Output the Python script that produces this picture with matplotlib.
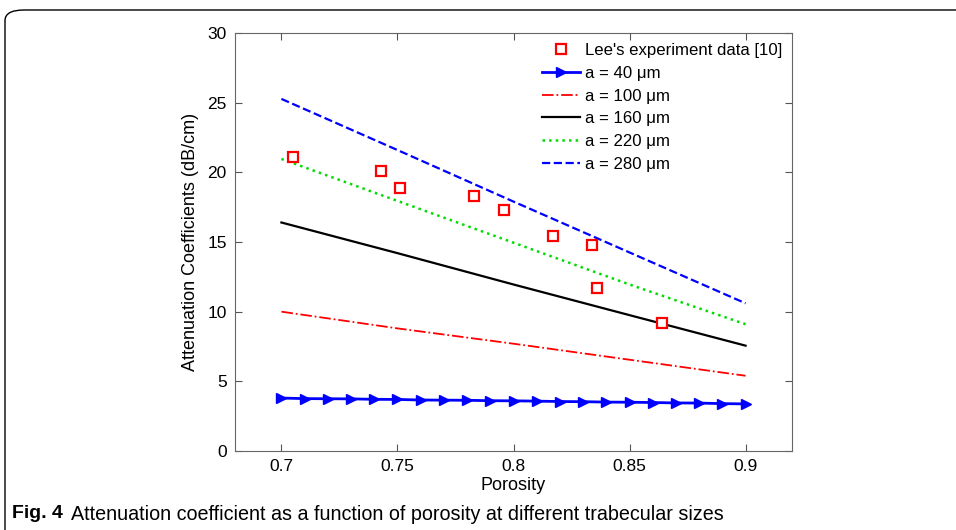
import numpy as np
import matplotlib
matplotlib.use("Agg")
import matplotlib.pyplot as plt
from matplotlib.patches import FancyBboxPatch

plt.rcParams["font.family"] = ["Liberation Sans", "DejaVu Sans"]

# Lee's experimental points
lee_por = [0.705, 0.743, 0.751, 0.783, 0.796, 0.817, 0.834, 0.836, 0.864]
lee_att = [21.1, 20.1, 18.9, 18.3, 17.3, 15.4, 14.8, 11.7, 9.2]

# model curves, read at 0.05 steps
por5 = [0.70, 0.75, 0.80, 0.85, 0.90]
att_100 = [10.0, 8.8, 7.7, 6.55, 5.4]
att_160 = [16.4, 14.2, 11.95, 9.75, 7.56]
att_220 = [20.96, 17.95, 14.95, 11.95, 9.1]
att_280 = [25.27, 21.6, 17.9, 14.25, 10.6]

# a = 40 um curve, one marker every 0.01
por40 = [0.70, 0.71, 0.72, 0.73, 0.74, 0.75, 0.76, 0.77, 0.78, 0.79, 0.80,
         0.81, 0.82, 0.83, 0.84, 0.85, 0.86, 0.87, 0.88, 0.89, 0.90]
att_40 = [3.80, 3.76, 3.75, 3.74, 3.71, 3.70, 3.66, 3.65, 3.64, 3.61, 3.60,
          3.58, 3.55, 3.54, 3.51, 3.50, 3.48, 3.45, 3.44, 3.40, 3.38]

xticks = [0.7, 0.75, 0.8, 0.85, 0.9]
yticks = [0, 5, 10, 15, 20, 25, 30]

fig = plt.figure(figsize=(9.56, 5.30), dpi=100)
ax = fig.add_axes([235 / 956, 1 - 451 / 530, 557 / 956, 418 / 530])

ax.plot(lee_por, lee_att, linestyle="none", marker="s", markersize=7,
        markerfacecolor="white", markeredgecolor="red", markeredgewidth=1.6,
        label="Lee's experiment data [10]", zorder=5)
ax.plot(por40, att_40, color="blue", linewidth=2.0, marker=">", markersize=7,
        label="a = 40 μm")
ax.plot(por5, att_100, color="red", linestyle="-.", linewidth=1.3,
        label="a = 100 μm")
ax.plot(por5, att_160, color="black", linestyle="-", linewidth=1.6,
        label="a = 160 μm")
ax.plot(por5, att_220, color="#00dd00", linestyle=":", linewidth=1.8,
        label="a = 220 μm")
ax.plot(por5, att_280, color="blue", linestyle="--", linewidth=1.6,
        label="a = 280 μm")

ax.set_xlim(0.68, 0.92)
ax.set_ylim(0, 30)
ax.set_xticks(xticks)
ax.set_xticklabels(["0.7", "0.75", "0.8", "0.85", "0.9"])
ax.set_yticks(yticks)
ax.tick_params(direction="in", top=True, right=True, length=5,
               labelsize=12.5, color="#555555", pad=6)
for s in ax.spines.values():
    s.set_color("#666666")
ax.set_xlabel("Porosity", fontsize=13, labelpad=2)
ax.set_ylabel("Attenuation Coefficients (dB/cm)", fontsize=13, labelpad=6)

ax.legend(loc="upper right", bbox_to_anchor=(1.0, 1.0), frameon=False,
          fontsize=12.1, handlelength=2.3, handletextpad=0.25,
          labelspacing=0.46, borderaxespad=0.2)

# rounded frame of the figure box
frame = FancyBboxPatch((5 / 956, -0.2), 1.2, 1 - 10 / 530 + 0.2,
                       boxstyle="round,pad=0,rounding_size=0.02",
                       transform=fig.transFigure, fill=False,
                       edgecolor="black", linewidth=1.0, clip_on=False)
fig.patches.append(frame)

fig.text(12 / 956, 1 - 514 / 530, "Fig. 4", fontsize=14, fontweight="bold",
         va="center", ha="left")
fig.text(71 / 956, 1 - 514 / 530,
         "Attenuation coefficient as a function of porosity at different trabecular sizes",
         fontsize=14.2, va="center", ha="left")

fig.savefig("out.png", dpi=100)
